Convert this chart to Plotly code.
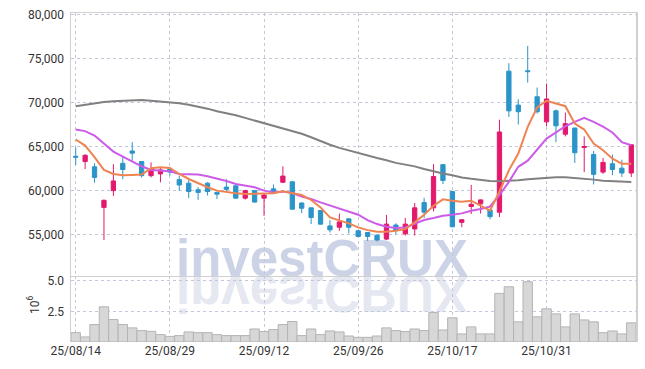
import plotly.graph_objects as go

dates = ["25/08/14", "25/08/18", "25/08/19", "25/08/20", "25/08/21", "25/08/22", "25/08/25", "25/08/26", "25/08/27", "25/08/28",
         "25/08/29", "25/09/01", "25/09/02", "25/09/03", "25/09/04", "25/09/05", "25/09/08", "25/09/09", "25/09/10", "25/09/11",
         "25/09/12", "25/09/15", "25/09/16", "25/09/17", "25/09/18", "25/09/19", "25/09/22", "25/09/23", "25/09/24", "25/09/25",
         "25/09/26", "25/09/29", "25/09/30", "25/10/01", "25/10/02", "25/10/10", "25/10/13", "25/10/14", "25/10/15", "25/10/16",
         "25/10/17", "25/10/20", "25/10/21", "25/10/22", "25/10/23", "25/10/24", "25/10/27", "25/10/28", "25/10/29", "25/10/30",
         "25/10/31", "25/11/03", "25/11/04", "25/11/05", "25/11/06", "25/11/07", "25/11/10", "25/11/11", "25/11/12", "25/11/13"]

open_ = [63900, 63300, 62700, 58100, 60000, 63100, 64500, 63300, 61700, 61900,
         62450, 61250, 60850, 60100, 60850, 59800, 60400, 60550, 59150, 60000,
         59150, 60200, 60950, 61000, 58600, 58050, 57750, 56000, 55850, 56800,
         55450, 55250, 54950, 54500, 56100, 55100, 55650, 58650, 58050, 62950,
         59900, 56400, 58200, 58500, 57800, 57550, 73550, 69700, 73600, 70650,
         67800, 69050, 66400, 67100, 64900, 64100, 62100, 63050, 62550, 62000]
high = [64900, 64150, 63100, 59000, 63000, 63800, 65500, 63300, 63200, 62650,
        62650, 61700, 61200, 60400, 60950, 59900, 61300, 60600, 60100, 60100,
        59600, 60700, 62750, 61050, 58650, 58100, 57800, 56650, 57400, 56850,
        55500, 55300, 55050, 57250, 56300, 56900, 58600, 59200, 63000, 63000,
        59950, 56750, 60650, 59000, 57850, 68050, 74450, 70350, 76400, 71700,
        72150, 69200, 68850, 67150, 66150, 64500, 63700, 64100, 63500, 65250]
low = [62900, 62450, 60900, 54400, 59400, 61300, 63300, 61500, 61500, 60950,
       61700, 60000, 59150, 58950, 59450, 59050, 59800, 59050, 58980, 58650,
       57150, 59600, 60850, 57850, 57450, 56200, 56150, 55250, 55450, 55150,
       54700, 54300, 54250, 54400, 55050, 54900, 54900, 56900, 57650, 60750,
       55850, 55850, 57350, 57400, 56750, 57000, 68350, 67500, 72250, 68750,
       67300, 65500, 66150, 63150, 62100, 60700, 61900, 61750, 61550, 61550]
close = [63800, 64000, 61500, 58900, 61100, 62400, 64250, 61700, 62450, 62350,
         62100, 60650, 59900, 59800, 59900, 59600, 60150, 59150, 60000, 58700,
         59500, 59800, 61650, 57900, 58000, 56950, 56200, 55550, 56450, 55850,
         54800, 54800, 54400, 56200, 55500, 56200, 58050, 57550, 61600, 61150,
         55900, 56700, 58450, 58950, 57050, 66650, 69050, 68950, 73500, 68950,
         70400, 67350, 67600, 64300, 65000, 61850, 63200, 62400, 62000, 65200]

ma_short = [65800, 65110, 63790, 62350, 61890, 61740, 61780, 61820, 62540, 62650,
            62570, 61890, 61320, 60830, 60380, 60000, 59810, 59700, 59620, 59620,
            59620, 59700, 59920, 59730, 59500, 58940, 58100, 56970, 56660, 56290,
            55830, 55520, 55330, 55330, 55450, 55640, 56400, 57270, 58290, 59010,
            58860, 58750, 58860, 58290, 57720, 59900, 62300, 64200, 67230, 69430,
            70190, 69880, 69580, 67610, 66930, 65340, 64580, 63630, 63060, 63060]
ma_mid = [66930, 66750, 66250, 65300, 64430, 63860, 63330, 62760, 62350, 62270,
          62200, 61900, 61820, 61820, 61630, 61400, 61100, 60760, 60570, 60380,
          60000, 59800, 59900, 59735, 59320, 59050, 58670, 58300, 57920, 57610,
          57270, 56660, 56210, 55900, 55750, 55830, 56210, 56660, 56890, 57150,
          57270, 57420, 57720, 57910, 58200, 59500, 61000, 62700, 63400, 64700,
          65900, 66600, 67300, 67800, 68250, 67800, 67250, 66600, 65500, 65150]
ma_long = [69580, 69750, 69900, 70050, 70130, 70180, 70250, 70280, 70200, 70120,
           70030, 69900, 69750, 69560, 69300, 69000, 68800, 68550, 68250, 67950,
           67620, 67350, 67100, 66800, 66450, 66050, 65600, 65200, 64850, 64550,
           64250, 63950, 63700, 63450, 63150, 62950, 62750, 62450, 62180, 61950,
           61750, 61500, 61350, 61200, 61100, 61070, 61100, 61170, 61300, 61400,
           61500, 61530, 61520, 61450, 61350, 61250, 61120, 61050, 61000, 60980]

volume_millions = [0.76, 0.41, 1.42, 2.87, 1.83, 1.42, 1.15, 0.93, 0.87, 0.60,
                   0.46, 0.52, 0.82, 0.76, 0.76, 0.60, 0.52, 0.52, 0.52, 1.06,
                   0.85, 1.01, 1.42, 1.67, 0.52, 1.06, 0.60, 0.90, 0.82, 0.49,
                   0.38, 0.38, 0.49, 1.15, 0.93, 0.85, 1.06, 0.93, 2.40, 0.98,
                   1.97, 0.66, 1.23, 0.66, 0.66, 3.96, 4.50, 1.64, 4.91, 2.05,
                   2.70, 2.29, 1.23, 2.29, 1.80, 1.64, 0.76, 0.90, 0.66, 1.56]

x_tick_labels = dates[::10]
price_ticks = [55000, 60000, 65000, 70000, 75000, 80000]
volume_ticks = [2.5, 5.0]
volume_tick_text = ["2.5", "5.0"]
watermark = "investCRUX"

RED = "#e2196c"
BLUE = "#2b94c8"
GRID = "#c3c7da"
AXIS = "#d0d0d0"
FONT = "Roboto, Liberation Sans, sans-serif"
TXT = "#333333"

fig = go.Figure()

fig.add_trace(go.Candlestick(
    x=dates, open=open_, high=high, low=low, close=close,
    increasing=dict(line=dict(color=RED, width=1), fillcolor=RED),
    decreasing=dict(line=dict(color=BLUE, width=1), fillcolor=BLUE),
    whiskerwidth=0, hoverinfo="skip", showlegend=False,
    xaxis="x", yaxis="y"))

fig.add_trace(go.Scatter(x=dates, y=ma_long, mode="lines",
                         line=dict(color="#808080", width=2), showlegend=False,
                         hoverinfo="skip", xaxis="x", yaxis="y"))
fig.add_trace(go.Scatter(x=dates, y=ma_mid, mode="lines",
                         line=dict(color="#cc5ce8", width=2), showlegend=False,
                         hoverinfo="skip", xaxis="x", yaxis="y"))
fig.add_trace(go.Scatter(x=dates, y=ma_short, mode="lines",
                         line=dict(color="#ef8452", width=2), showlegend=False,
                         hoverinfo="skip", xaxis="x", yaxis="y"))

fig.add_trace(go.Bar(x=dates, y=volume_millions,
                     marker=dict(color="#d7d7d7", line=dict(color="#b4b4b4", width=1)),
                     showlegend=False, hoverinfo="skip", xaxis="x2", yaxis="y2"))

split = 0.2015

xcommon = dict(type="category", range=[-0.5, len(dates) - 0.5], automargin=False,
               tickmode="array", tickvals=x_tick_labels, ticktext=x_tick_labels,
               showgrid=True, gridcolor=GRID, griddash="dot", gridwidth=1,
               zeroline=False, rangeslider=dict(visible=False),
               tickfont=dict(family=FONT, size=12, color=TXT))
ycommon = dict(automargin=False, tickmode="array",
               showgrid=True, gridcolor=GRID, griddash="dot", gridwidth=1,
               zeroline=False, showline=True, linecolor=AXIS, linewidth=1.5, mirror=True,
               ticks="outside", ticklen=3, tickcolor="rgba(0,0,0,0)",
               tickfont=dict(family=FONT, size=12, color=TXT))

fig.update_layout(
    template="none",
    width=645, height=369,
    margin=dict(l=71, r=9, t=13, b=27, pad=0),
    paper_bgcolor="white", plot_bgcolor="white",
    font=dict(family=FONT, size=12, color=TXT),
    boxgap=0.35,
    bargap=0.0,
    showlegend=False,
    xaxis=dict(**xcommon, domain=[0, 1], anchor="y", showticklabels=False, ticks="",
               showline=True, linecolor=AXIS, linewidth=1.5, mirror=True),
    yaxis=dict(**ycommon, domain=[split, 1], range=[50350, 80150], anchor="x",
               tickvals=price_ticks, tickformat=",d"),
    xaxis2=dict(**xcommon, domain=[0, 1], anchor="y2", matches="x",
                showticklabels=True, showline=False, ticks=""),
    yaxis2=dict(**ycommon, domain=[0, split], range=[0, 5.4], anchor="x2",
                tickvals=volume_ticks, ticktext=volume_tick_text),
    annotations=[dict(text="10<sup>6</sup>", xref="paper", yref="paper",
                      x=-0.066, y=split * 0.57, textangle=-90, showarrow=False,
                      xanchor="center", yanchor="middle",
                      font=dict(family=FONT, size=12, color=TXT))],
)

# watermark (behind traces) and its mirrored reflection
wm_x0, wm_x1 = (180 - 71) / 565, (464 - 71) / 565
wm_y0, wm_y1 = (342 - 276) / 329, (342 - 230) / 329
for col in ["rgb(229,232,241)", "rgb(204,211,231)"]:
    fig.add_shape(type="rect", xref="paper", yref="paper", x0=wm_x0, x1=wm_x1, y0=wm_y0, y1=wm_y1,
                  line=dict(width=0), fillcolor="rgba(0,0,0,0)", layer="below",
                  label=dict(text="<b>" + watermark + "</b>", textposition="middle center",
                             font=dict(family="Liberation Sans, Arial, sans-serif", size=51,
                                       color=col, weight="bold")))

post = """
document.body.style.margin = '0';
document.body.style.padding = '0';
document.body.style.overflow = 'hidden';
var gd = document.getElementById('{plot_id}');
function mirrorWM(){
  var ts = gd.querySelectorAll('text');
  for (var k = 0; k < ts.length; k++) {
    var t = ts[k];
    if (t.textContent === 'investCRUX' && t.getAttribute('data-mir') !== '1') {
      var f = (t.style.fill || '').replace(/\\s/g, '');
      if (f === 'rgb(229,232,241)') {
        var y = parseFloat(t.getAttribute('y'));
        if (isNaN(y)) { var bb = t.getBBox(); y = bb.y + bb.height * 0.81; }
        var tr = t.getAttribute('transform') || '';
        t.setAttribute('transform', tr + ' translate(0,' + (2 * y) + ') scale(1,-1)');
        t.setAttribute('data-mir', '1');
      }
    }
  }
}
mirrorWM();
"""

fig.write_html("out.html", post_script=post, config={"displayModeBar": False, "staticPlot": True})
